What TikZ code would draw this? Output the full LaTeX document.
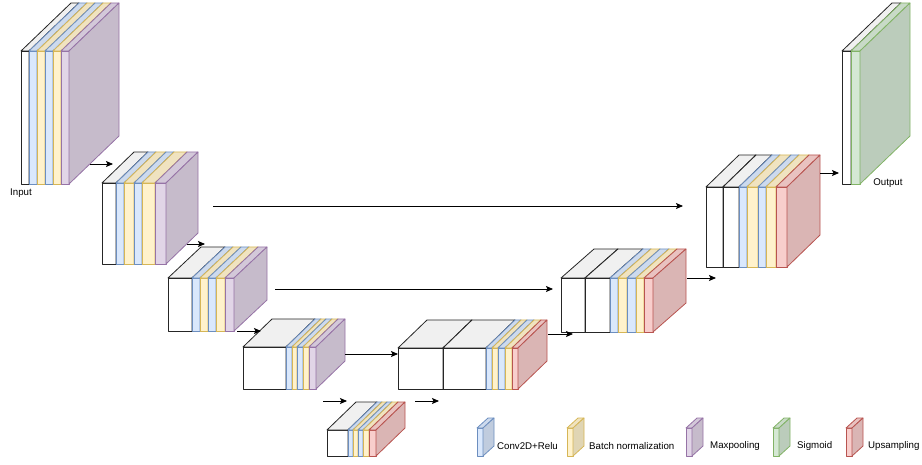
\documentclass[tikz,border=0pt]{standalone}
\usepackage{fontspec}
\setmainfont{Liberation Sans}
\usetikzlibrary{arrows.meta}
\definecolor{plainF}{HTML}{FFFFFF}\definecolor{plainD}{HTML}{262626}
\definecolor{convF}{HTML}{DAE8FC}\definecolor{convD}{HTML}{6C8EBF}
\definecolor{bnF}{HTML}{FFF2CC}\definecolor{bnD}{HTML}{D6B656}
\definecolor{poolF}{HTML}{E1D5E7}\definecolor{poolD}{HTML}{9673A6}
\definecolor{sigF}{HTML}{D5E8D4}\definecolor{sigD}{HTML}{82B366}
\definecolor{upF}{HTML}{F8CECC}\definecolor{upD}{HTML}{B85450}
\tikzset{
  slabline/.style={line width=0.8pt,line join=round},
  linkarrow/.style={-{Stealth[length=7pt,width=6pt,inset=1.5pt]},line width=0.8pt},
  tag/.style={font=\fontsize{9.7}{11.6}\selectfont,inner sep=0pt}
}
% one slab of a block: left x, right x, top y, height, kind (uses \dx,\dy)
\newcommand{\layer}[5]{%
  \filldraw[slabline,draw=#5D,fill=#5F] (#1,#3) rectangle (#2,#3+#4);
  \filldraw[slabline,draw=#5D,fill=#5F!94!black] (#1,#3) -- ++(\dx,-\dy) -- ++(#2-#1,0) -- (#2,#3) -- cycle;
  \filldraw[slabline,draw=#5D,fill=#5F!88!black] (#2,#3) -- ++(\dx,-\dy) -- ++(0,#4) -- (#2,#3+#4) -- cycle;
}

\begin{document}
\begin{tikzpicture}[x=1pt,y=-1pt]
\useasboundingbox (0,0) rectangle (922,465);
% encoder
\def\dx{50}\def\dy{48}
\foreach \xa/\xb/\k in {21/29/plain,29/37/conv,37/45/bn,45/53/conv,53/61/bn,61/69/pool}
  \layer{\xa}{\xb}{51}{133}{\k};
\def\dx{32}\def\dy{31}
\foreach \xa/\xb/\k in {102/116/plain,116/124/conv,124/134/bn,134/142/conv,142/155/bn,155/166/pool}
  \layer{\xa}{\xb}{183}{81}{\k};
\def\dx{33}\def\dy{31}
\foreach \xa/\xb/\k in {168/192/plain,192/200/conv,200/208/bn,208/216/conv,216/225/bn,225/234/pool}
  \layer{\xa}{\xb}{278}{53}{\k};
\def\dx{29}\def\dy{28}
\foreach \xa/\xb/\k in {243/286/plain,286/292/conv,292/297/bn,297/303/conv,303/309/bn,309/316/pool}
  \layer{\xa}{\xb}{347}{42}{\k};
% bottleneck
\foreach \xa/\xb/\k in {327/348/plain,348/353/conv,353/358/bn,358/363/conv,363/369/bn,369/376/up}
  \layer{\xa}{\xb}{430}{26}{\k};
% decoder
\foreach \xa/\xb/\k in {398/443/plain,443/486/plain,486/492/conv,492/498/bn,498/505/conv,505/512/bn,512/518/up}
  \layer{\xa}{\xb}{348}{41}{\k};
\def\dx{33}\def\dy{29}
\foreach \xa/\xb/\k in {561/585/plain,585/610/plain,610/618/conv,618/627/bn,627/636/conv,636/644/bn,644/653/up}
  \layer{\xa}{\xb}{278}{54}{\k};
\def\dx{33}\def\dy{32}
\foreach \xa/\xb/\k in {706/723/plain,723/739/plain,739/747/conv,747/758/bn,758/766/conv,766/776/bn,776/787/up}
  \layer{\xa}{\xb}{187}{80}{\k};
\def\dx{50}\def\dy{48}
\foreach \xa/\xb/\k in {842/851/plain,851/860/sig}
  \layer{\xa}{\xb}{51}{133}{\k};

\node[tag] (input) at (21,193) {Input};
\node[tag] (output) at (888,183) {Output};

% connectors
\coordinate (enc1-out) at (90,164);   \coordinate (enc2-in) at (113,164);
\coordinate (enc2-out) at (187,244);  \coordinate (enc3-in) at (205,244);
\coordinate (enc3-out) at (237,331);  \coordinate (enc4-in) at (261,331);
\coordinate (enc4-out) at (345,354);  \coordinate (dec1-in) at (398,354);
\coordinate (mid-in0) at (323,401);   \coordinate (mid-in) at (347,401);
\coordinate (mid-out) at (415,401);   \coordinate (mid-out1) at (439,401);
\coordinate (dec1-out) at (548,334);  \coordinate (dec2-in) at (573,334);
\coordinate (dec2-out) at (687,278);  \coordinate (dec3-in) at (716,278);
\coordinate (dec3-out) at (820,173);  \coordinate (final-in) at (839,173);
\coordinate (skip2-out) at (213,206); \coordinate (skip2-in) at (683,206);
\coordinate (skip3-out) at (275,289); \coordinate (skip3-in) at (553,289);
\draw[linkarrow] (enc1-out) -- (enc2-in);
\draw[linkarrow] (enc2-out) -- (enc3-in);
\draw[linkarrow] (enc3-out) -- (enc4-in);
\draw[linkarrow] (enc4-out) -- (dec1-in);
\draw[linkarrow] (mid-in0) -- (mid-in);
\draw[linkarrow] (mid-out) -- (mid-out1);
\draw[linkarrow] (dec1-out) -- (dec2-in);
\draw[linkarrow] (dec2-out) -- (dec3-in);
\draw[linkarrow] (dec3-out) -- (final-in);
\draw[linkarrow] (skip2-out) -- (skip2-in);
\draw[linkarrow] (skip3-out) -- (skip3-in);

% legend
\def\dx{11}\def\dy{10}
\foreach \xa/\k/\lx/\txt in {477/conv/497/Conv2D+Relu,567/bn/589/Batch normalization,686/pool/710/Maxpooling,773/sig/797/Sigmoid,846/up/868/Upsampling}{
  \layer{\xa}{\xa+6}{428}{28}{\k};
  \node[tag,anchor=west] (key-\k) at (\lx,446) {\txt};
}
\end{tikzpicture}
\end{document}
